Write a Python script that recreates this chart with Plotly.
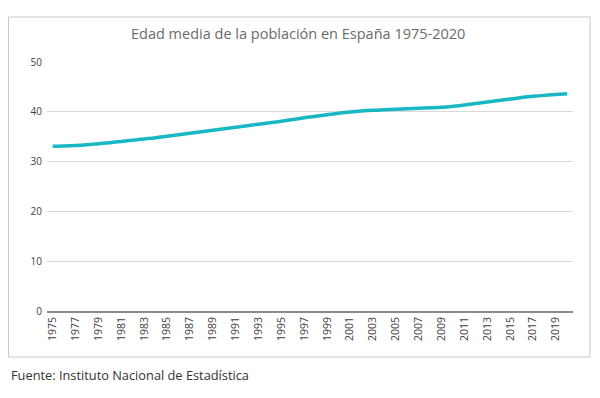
import plotly.graph_objects as go

years = [str(y) for y in range(1975, 2021)]
edad_media = [33.1, 33.15, 33.25, 33.4, 33.6, 33.8, 34.05, 34.3, 34.55, 34.8,
              35.1, 35.4, 35.7, 36.0, 36.3, 36.6, 36.9, 37.2, 37.5, 37.8,
              38.1, 38.45, 38.8, 39.1, 39.4, 39.7, 39.95, 40.15, 40.3, 40.4,
              40.5, 40.6, 40.7, 40.8, 40.9, 41.1, 41.35, 41.65, 41.95, 42.25,
              42.55, 42.85, 43.1, 43.3, 43.45, 43.6]
tick_labels = [str(y) for y in range(1975, 2021, 2)]
y_ticks = [0, 10, 20, 30, 40, 50]

title_text = "Edad media de la población en España 1975-2020"
source_text = "Fuente: Instituto Nacional de Estadística"

# page has an 8px body margin; figure coordinates = page coordinates - 8
OFF = 8
W, H = 584, 382
L, R, T, B = 47 - OFF, 573 - OFF, 62 - OFF, 311 - OFF

def px_x(px):
    return (px - OFF - L) / (R - L)

def px_y(py):
    return (B - (py - OFF)) / (B - T)

fig = go.Figure()
fig.add_trace(go.Scatter(
    x=years, y=edad_media, mode="lines",
    line=dict(color="#17b8c4", width=3.5, shape="spline", smoothing=1.0),
    hoverinfo="x+y", showlegend=False,
))

fig.update_layout(
    width=W, height=H,
    margin=dict(l=L, r=W - R, t=T, b=H - B),
    paper_bgcolor="white", plot_bgcolor="white",
    font=dict(family="Open Sans, sans-serif", color="#404040", size=10),
    xaxis=dict(
        type="category", categoryorder="array", categoryarray=years,
        range=[-0.5, len(years) - 0.5],
        tickmode="array", tickvals=tick_labels, ticktext=tick_labels,
        tickangle=-90, tickfont=dict(size=10.5, color="#404040"),
        showgrid=False, showline=True, linecolor="#8c8c8c", linewidth=1.5,
        ticks="", zeroline=False,
    ),
    yaxis=dict(
        range=[0, 50], tickmode="array", tickvals=y_ticks,
        tickfont=dict(size=10, color="#404040"),
        showgrid=True, gridcolor="#d9d9d9", gridwidth=1,
        zeroline=False, showline=False, ticks="", ticklabelstandoff=4,
    ),
    shapes=[dict(
        type="rect", xref="paper", yref="paper",
        x0=px_x(8.5), x1=px_x(590), y0=px_y(357), y1=px_y(17),
        line=dict(color="#c8c8c8", width=1), fillcolor="rgba(0,0,0,0)",
        layer="below",
    )],
    annotations=[
        dict(text=title_text, xref="paper", yref="paper",
             x=px_x(298), y=px_y(34), xanchor="center", yanchor="middle",
             showarrow=False, font=dict(size=14.5, color="#6b6b6b",
                                        family="Open Sans, sans-serif")),
        dict(text=source_text, xref="paper", yref="paper",
             x=px_x(9), y=px_y(375), xanchor="left", yanchor="middle",
             showarrow=False, font=dict(size=12.8, color="#333333",
                                        family="Open Sans, sans-serif")),
    ],
)

fig.write_html("out.html")
